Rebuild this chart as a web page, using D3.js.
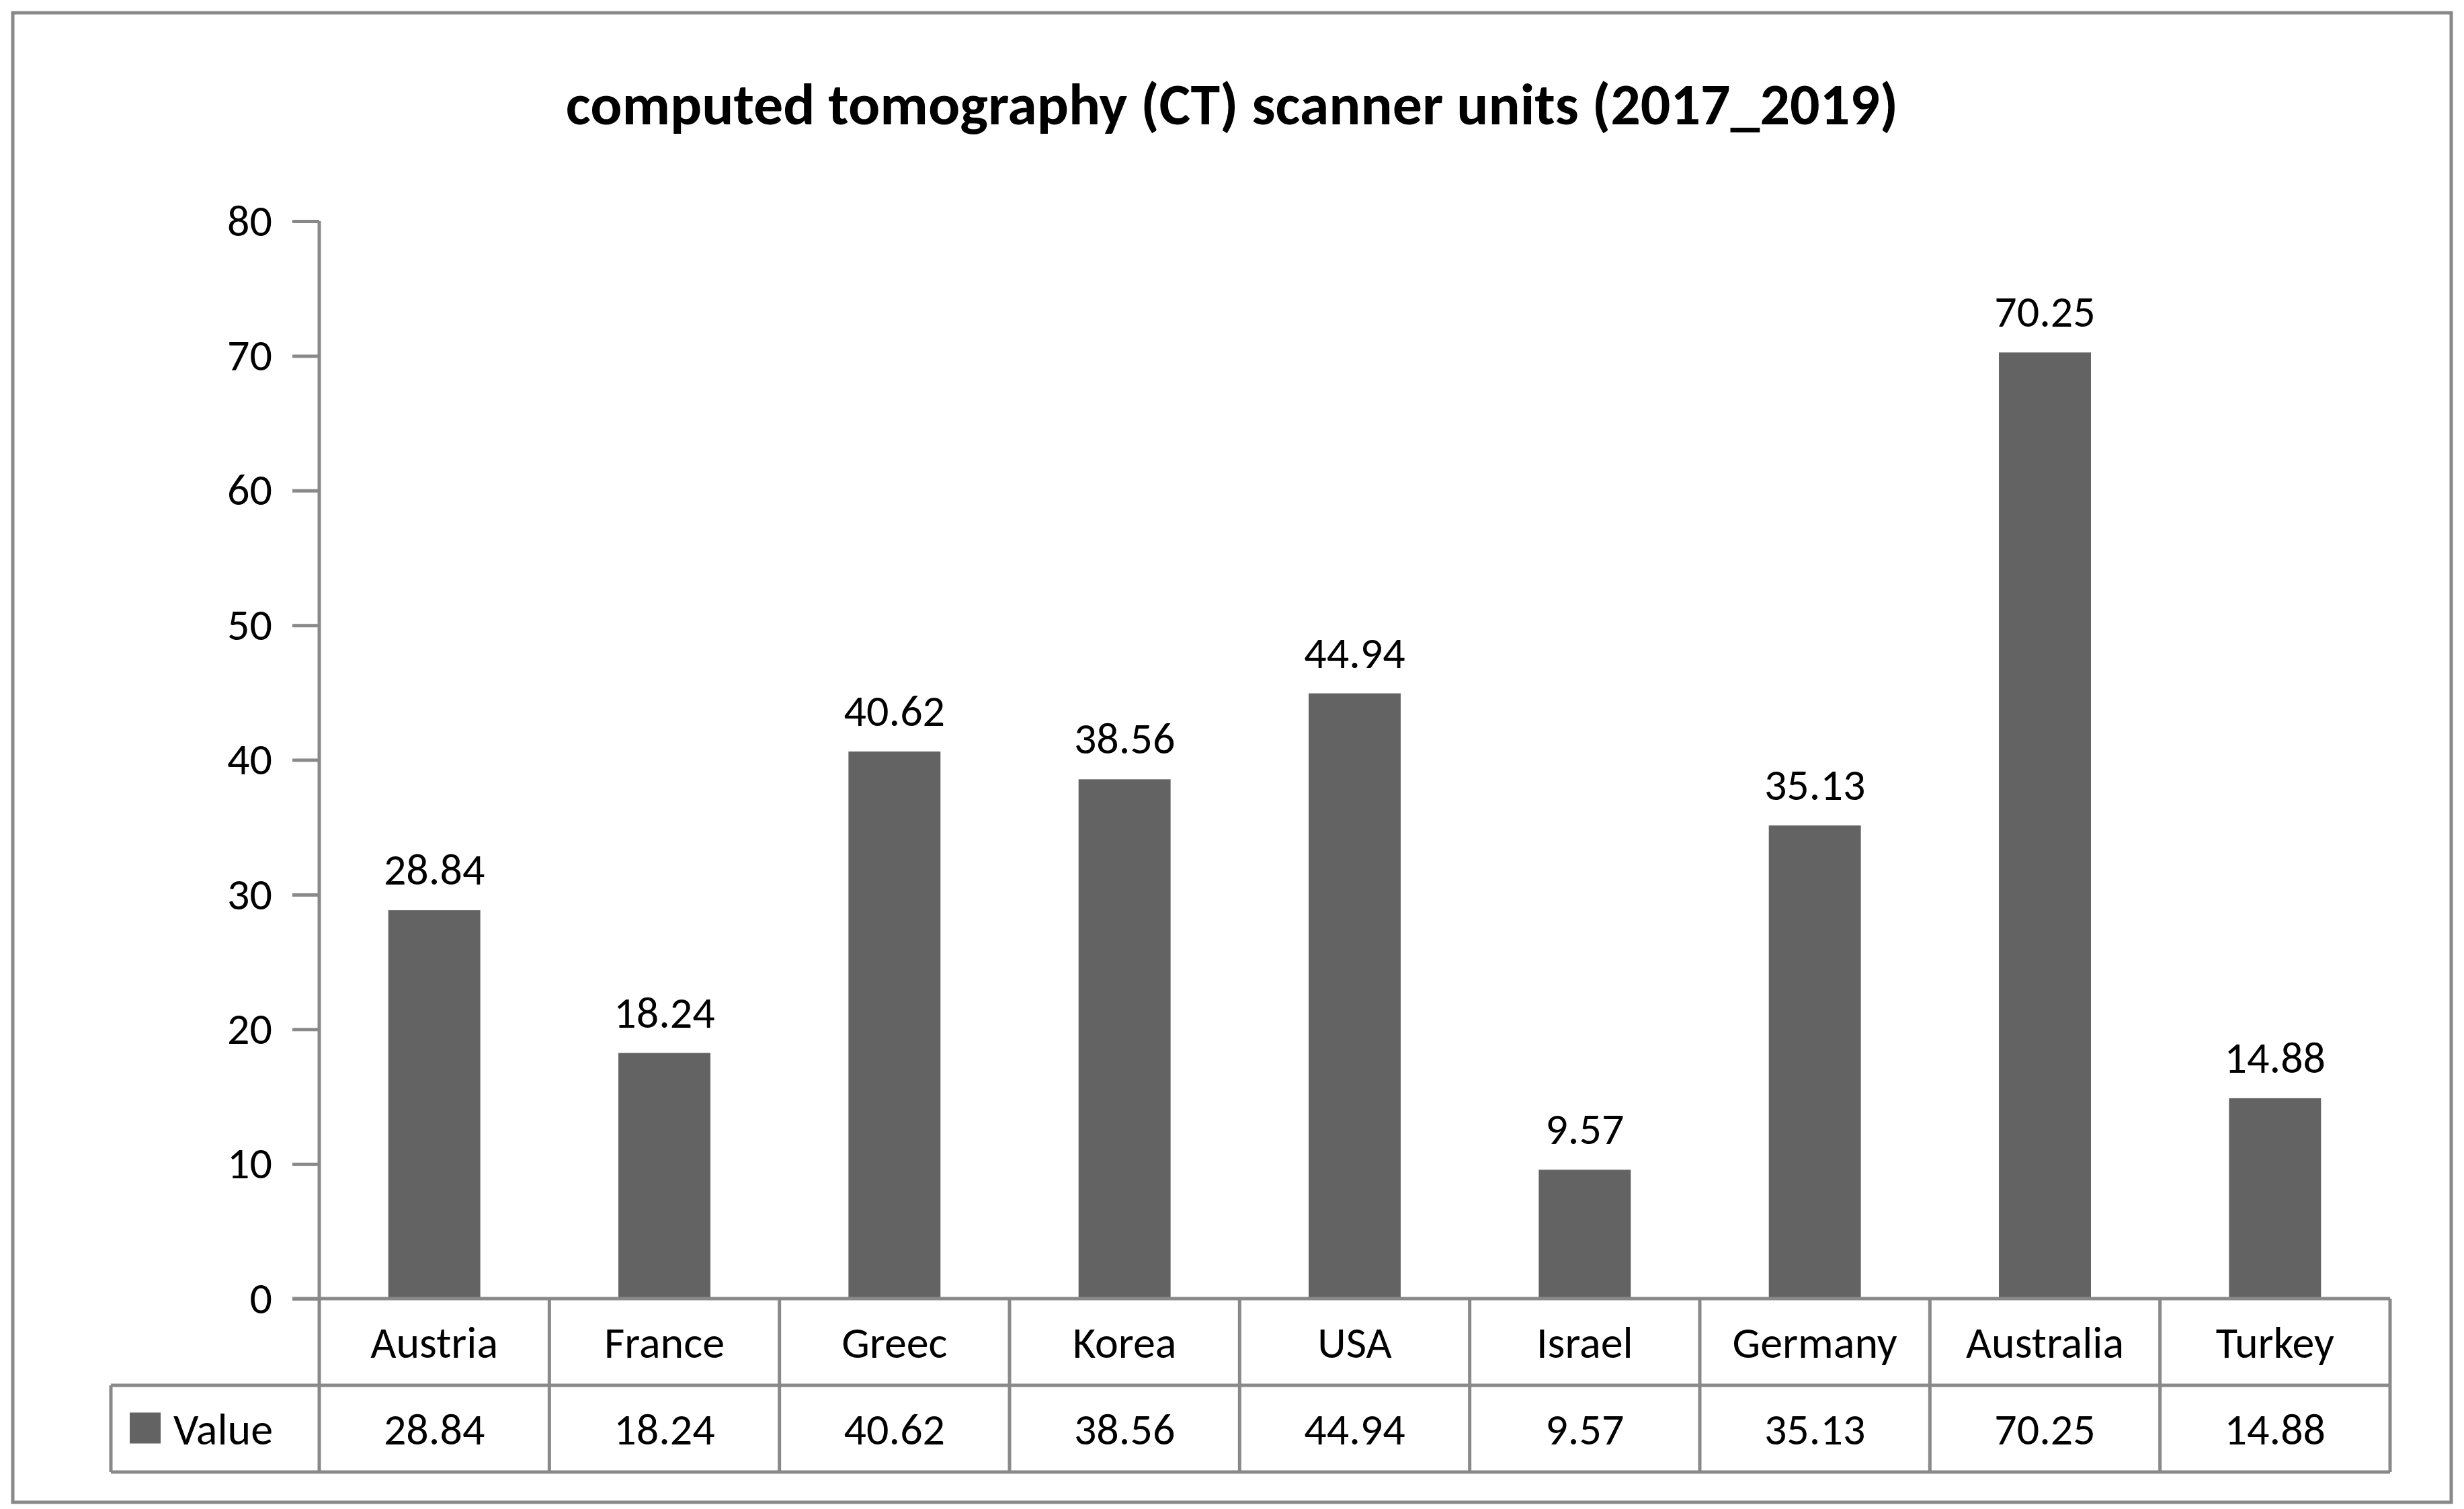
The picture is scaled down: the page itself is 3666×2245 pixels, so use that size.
<!DOCTYPE html>
<html><head><meta charset="utf-8">
<script src="https://cdn.jsdelivr.net/npm/d3@7"></script>
<style>body{margin:0;background:#fff}svg{display:block}</style>
</head><body><svg id="c" width="3666" height="2245"></svg>
<script>
const categories=["Austria","France","Greec","Korea","USA","Israel","Germany","Australia","Turkey"];
const values=[28.84,18.24,40.62,38.56,44.94,9.57,35.13,70.25,14.88];
const valueLabels=["28.84","18.24","40.62","38.56","44.94","9.57","35.13","70.25","14.88"];
const yTicks=[0,10,20,30,40,50,60,70,80];
const seriesName="Value";
const title="computed tomography (CT) scanner units  (2017_2019)";

const font="Carlito, 'Open Sans', 'Noto Sans', sans-serif";
const svg=d3.select("#c");
const gray="#898989", bar="#636363";
svg.append("rect").attr("x",19).attr("y",19).attr("width",3628).attr("height",2216)
  .attr("fill","#fff").attr("stroke",gray).attr("stroke-width",5);
svg.append("text").attr("x",1833).attr("y",185).attr("text-anchor","middle")
  .attr("font-family",font).attr("font-weight","bold").attr("font-size",88).text(title);

const x0=475,x1=3556,yTop=329,yBot=1932;
const x=d3.scaleBand().domain(categories).range([x0,x1]).paddingInner(0.6).paddingOuter(0.3);
const xc=d3.scaleBand().domain(categories).range([x0,x1]);
const y=d3.scaleLinear().domain([0,80]).range([yBot,yTop]);

const ax=svg.append("g").attr("transform",`translate(${x0},0)`)
  .call(d3.axisLeft(y).tickValues(yTicks).tickSize(40).tickPadding(30));
ax.select(".domain").remove();
ax.selectAll("line").attr("stroke",gray).attr("stroke-width",5);
ax.selectAll("text").attr("font-family",font).attr("font-size",66).attr("fill","#000");
svg.append("line").attr("x1",x0).attr("x2",x0).attr("y1",yTop).attr("y2",yBot).attr("stroke",gray).attr("stroke-width",5);

svg.selectAll("rect.bar").data(values).join("rect").attr("class","bar")
  .attr("x",(d,i)=>x(categories[i])).attr("width",x.bandwidth())
  .attr("y",d=>y(d)).attr("height",d=>yBot-y(d)).attr("fill",bar);
svg.selectAll("text.lbl").data(values).join("text").attr("class","lbl")
  .attr("x",(d,i)=>x(categories[i])+x.bandwidth()/2).attr("y",d=>y(d)-38)
  .attr("text-anchor","middle").attr("font-family",font).attr("font-size",66)
  .text((d,i)=>valueLabels[i]);

// data table
const r0=yBot,r1=2061,r2=2190,tl=165;
const L=(a,b,c,d)=>svg.append("line").attr("x1",a).attr("y1",b).attr("x2",c).attr("y2",d).attr("stroke",gray).attr("stroke-width",5);
L(x0-40,r0,x1,r0); L(tl,r1,x1,r1); L(tl,r2,x1,r2); L(tl,r1,tl,r2);
L(x0,r0,x0,r2);
categories.forEach(c=>L(xc(c)+xc.bandwidth(),r0,xc(c)+xc.bandwidth(),r2));
svg.selectAll("text.cat").data(categories).join("text").attr("class","cat")
  .attr("x",d=>xc(d)+xc.bandwidth()/2).attr("y",(r0+r1)/2+23).attr("text-anchor","middle")
  .attr("font-family",font).attr("font-size",66).text(d=>d);
svg.selectAll("text.tv").data(valueLabels).join("text").attr("class","tv")
  .attr("x",(d,i)=>xc(categories[i])+xc.bandwidth()/2).attr("y",(r1+r2)/2+23).attr("text-anchor","middle")
  .attr("font-family",font).attr("font-size",66).text(d=>d);
svg.append("rect").attr("x",193).attr("y",(r1+r2)/2-24).attr("width",46).attr("height",46).attr("fill",bar);
svg.append("text").attr("x",258).attr("y",(r1+r2)/2+23).attr("font-family",font).attr("font-size",66).text(seriesName);
</script></body></html>
